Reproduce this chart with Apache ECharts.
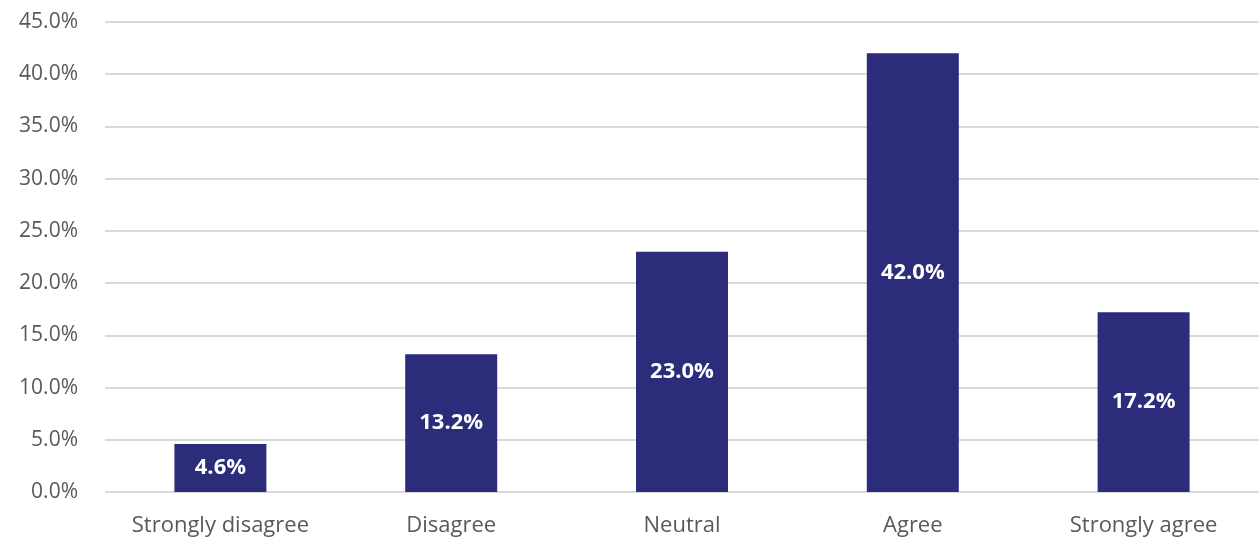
<!DOCTYPE html>
<html><head><meta charset="utf-8">
<script src="https://cdn.jsdelivr.net/npm/echarts@6/dist/echarts.min.js"></script>
<style>html,body{margin:0;padding:0;background:#fff}#c{width:1259px;height:540px}</style>
</head><body><div id="c"></div>
<script>
const categories = ["Strongly disagree", "Disagree", "Neutral", "Agree", "Strongly agree"];
const values = [4.6, 13.2, 23.0, 42.0, 17.2];
const yMin = 0, yMax = 45, yStep = 5;

const chart = echarts.init(document.getElementById('c'), null, {renderer: 'canvas'});
chart.setOption({
  animation: false,
  grid: {left: 105, top: 22, width: 1157.5, bottom: 48, containLabel: false},
  xAxis: {
    type: 'category', data: categories,
    axisLine: {show: false}, axisTick: {show: false},
    axisLabel: {color: '#595959', fontSize: 22, fontFamily: '"Open Sans", sans-serif', margin: 23}
  },
  yAxis: {
    type: 'value', min: yMin, max: yMax, interval: yStep,
    axisLine: {show: false}, axisTick: {show: false},
    axisLabel: {color: '#595959', fontSize: 21, fontFamily: '"Open Sans", sans-serif', margin: 27,
      formatter: v => v.toFixed(1) + '%'},
    splitLine: {lineStyle: {color: '#d9d9d9', width: 2}}
  },
  series: [{
    type: 'bar', data: values, barWidth: 92,
    itemStyle: {color: '#2b2d7b'},
    label: {show: true, position: 'inside', color: '#fff', fontWeight: 'bold', fontSize: 22,
      fontFamily: '"Open Sans", sans-serif', formatter: p => p.value.toFixed(1) + '%'}
  }]
});
</script></body></html>
